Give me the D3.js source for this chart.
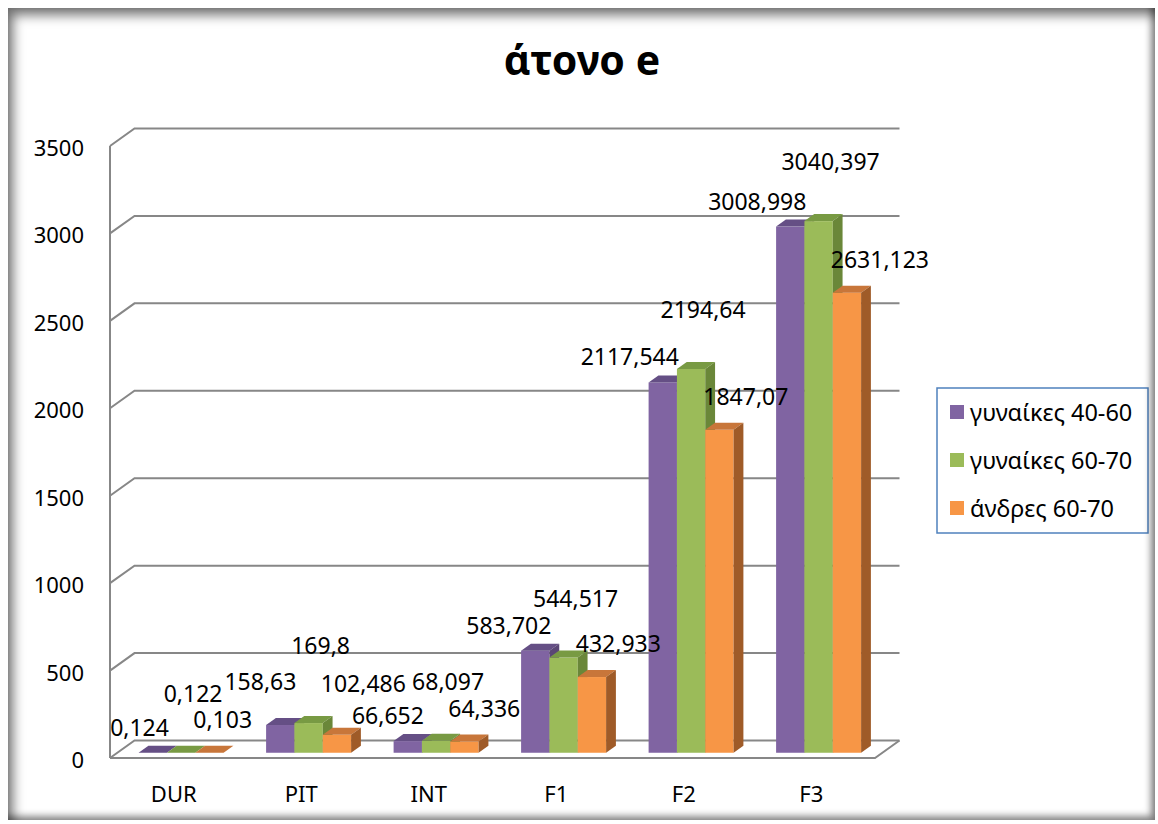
<!DOCTYPE html>
<html>
<head>
<meta charset="utf-8">
<script src="https://cdn.jsdelivr.net/npm/d3@7"></script>
<style>
  body { margin: 0; background: #fff; }
  #wrap { position: relative; width: 1158px; height: 824px; }
  #frame {
    position: absolute; left: 8px; top: 8px; width: 1147px; height: 812px;
    box-shadow: inset 5px 7px 12px rgba(0,0,0,0.55), inset -4px -4px 7px rgba(0,0,0,0.45);
    pointer-events: none;
  }
  text { font-family: "Noto Sans", "DejaVu Sans", sans-serif; fill: #000; }
</style>
</head>
<body>
<div id="wrap"><div id="frame"></div></div>
<script>
// data
var categories = ["DUR", "PIT", "INT", "F1", "F2", "F3"];
var seriesNames = ["γυναίκες 40-60", "γυναίκες 60-70", "άνδρες 60-70"];
var women4060 = [0.124, 158.63, 66.652, 583.702, 2117.544, 3008.998];
var women6070 = [0.122, 169.8, 68.097, 544.517, 2194.64, 3040.397];
var men6070 = [0.103, 102.486, 64.336, 432.933, 1847.07, 2631.123];
var yTicks = [0, 500, 1000, 1500, 2000, 2500, 3000, 3500];

var series = [women4060, women6070, men6070];
var colors = [
  { front: "#8064A2", top: "#654f85", side: "#5a4675" },
  { front: "#9BBB59", top: "#789a43", side: "#6a8739" },
  { front: "#F79646", top: "#c8763a", side: "#9f5b28" }
];

var svg = d3.select("#wrap").insert("svg", "#frame")
  .attr("width", 1158).attr("height", 824)
  .style("display", "block");

// depth of the 3d box (offset of the back wall)
var DX = 24.5, DY = -17.5;
var x = d3.scaleBand().domain(categories).range([110, 875]);
var xs = d3.scaleBand().domain([0, 1, 2]).range([0, x.bandwidth()]).paddingOuter(0.75);
var y = d3.scaleLinear().domain([0, 3500]).range([758, 146]);

var gridColor = "#878787";

// title
svg.append("text")
  .attr("x", 582).attr("y", 75)
  .attr("text-anchor", "middle")
  .style("font-size", "41px").style("font-weight", "bold")
  .text("άτονο e");

// walls and gridlines
var walls = svg.append("g").attr("fill", "none").attr("stroke", gridColor).attr("stroke-width", 2);
yTicks.forEach(function(t) {
  walls.append("path")
    .attr("d", d3.line()([[x.range()[0], y(t)], [x.range()[0] + DX, y(t) + DY], [x.range()[1] + DX, y(t) + DY]]));
});
walls.append("line")
  .attr("x1", x.range()[0]).attr("x2", x.range()[0])
  .attr("y1", y(3500)).attr("y2", y(0));
walls.append("path")
  .attr("d", d3.line()([[x.range()[0], y(0)], [x.range()[1], y(0)], [x.range()[1] + DX, y(0) + DY]]));

// y labels
svg.append("g").selectAll("text").data(yTicks).enter().append("text")
  .attr("x", 84).attr("y", function(d) { return y(d) + 1; })
  .attr("text-anchor", "end").attr("dominant-baseline", "central")
  .style("font-size", "22px")
  .text(function(d) { return d; });

// category labels
svg.append("g").selectAll("text").data(categories).enter().append("text")
  .attr("x", function(d) { return x(d) + x.bandwidth() / 2; })
  .attr("y", 793)
  .attr("text-anchor", "middle").attr("dominant-baseline", "central")
  .style("font-size", "22px")
  .text(function(d) { return d; });

// bars
var d0 = 0.3, dd = 0.4;
var bx = DX * dd, by = DY * dd;
var bars = svg.append("g");
var labels = [];
categories.forEach(function(c, i) {
  var group = [];
  series.forEach(function(vals, s) {
    var v = vals[i];
    var x0 = x(c) + xs(s) + DX * d0;
    var x1 = x0 + xs.bandwidth();
    var yb = y(0) + DY * d0;
    var yt = y(v) + DY * d0;
    var g = bars.append("g");
    g.append("rect").attr("x", x0).attr("y", yt).attr("width", x1 - x0).attr("height", yb - yt)
      .attr("fill", colors[s].front);
    g.append("path")
      .attr("d", d3.line()([[x0, yt], [x1, yt], [x1 + bx, yt + by], [x0 + bx, yt + by]]) + "Z")
      .attr("fill", colors[s].top);
    g.append("path")
      .attr("d", d3.line()([[x1, yt], [x1 + bx, yt + by], [x1 + bx, yb + by], [x1, yb]]) + "Z")
      .attr("fill", colors[s].side);
    group.push({ s: s, v: v, x0: x0, x1: x1, yt: yt });
  });
  labels.push(group);
});

// data labels: placed by a per-series rule; a category's labels are lifted
// together when they run into the labels of the category on their right
var labelRule = [
  { anchor: "end", dx: function(d) { return d.x1 + 2; }, dy: -26 },
  { anchor: "middle", dx: function(d) { return (d.x0 + d.x1) / 2 + 12; }, dy: -60 },
  { anchor: "start", dx: function(d) { return d.x0 - 2; }, dy: -34 }
];
var half = 15;
var placed = [];
var lab = svg.append("g");
labels.slice().reverse().forEach(function(group) {
  var items = group.map(function(d) {
    var r = labelRule[d.s];
    var cy = d.yt + r.dy;
    var t = lab.append("text")
      .attr("x", r.dx(d)).attr("y", cy)
      .attr("text-anchor", r.anchor)
      .attr("dominant-baseline", "central")
      .style("font-size", "23px")
      .text(String(d.v).replace(".", ","));
    var b = t.node().getBBox();
    return { t: t, cy: cy, x0: b.x, x1: b.x + b.width };
  });
  var lift = 0, moved = true;
  while (moved) {
    moved = false;
    items.forEach(function(it) {
      var y0 = it.cy - lift - half, y1 = it.cy - lift + half;
      placed.forEach(function(p) {
        if (it.x0 < p.x1 && it.x1 > p.x0 && y0 < p.y1 && y1 > p.y0) {
          lift += y1 - p.y0 + 2;
          moved = true;
        }
      });
    });
  }
  items.forEach(function(it) {
    var cy = it.cy - lift;
    it.t.attr("y", cy);
    placed.push({ x0: it.x0, x1: it.x1, y0: cy - half, y1: cy + half });
  });
});

// legend
var legend = svg.append("g");
legend.append("rect")
  .attr("x", 937).attr("y", 388).attr("width", 211).attr("height", 145)
  .attr("fill", "#fff").attr("stroke", "#4F81BD").attr("stroke-width", 1.5);
seriesNames.forEach(function(n, s) {
  var ly = 412 + s * 48;
  legend.append("rect").attr("x", 950).attr("y", ly - 7).attr("width", 14).attr("height", 14)
    .attr("fill", colors[s].front);
  legend.append("text").attr("x", 970).attr("y", ly)
    .attr("dominant-baseline", "central")
    .style("font-size", "23.5px")
    .text(n);
});
</script>
</body>
</html>
